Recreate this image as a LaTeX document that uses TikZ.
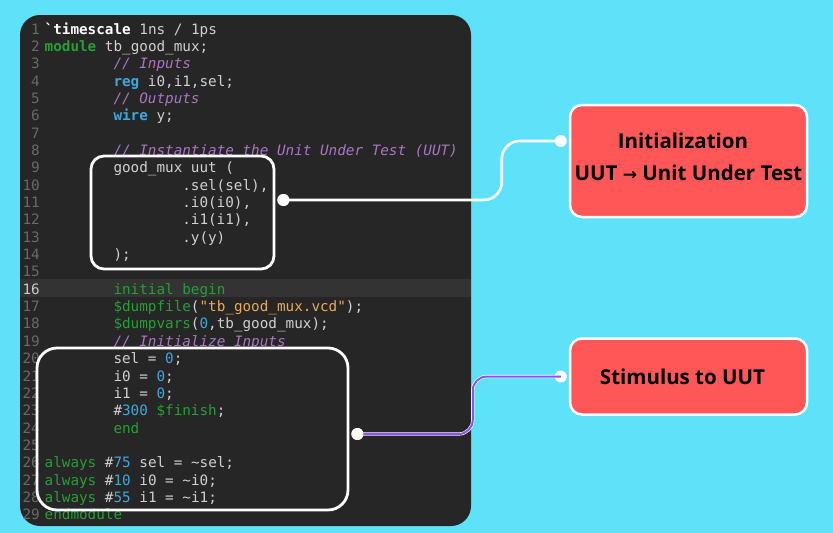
\documentclass[tikz,border=0pt]{standalone}
\usepackage{fontspec}
\newfontfamily\codefont{DejaVu Sans Mono}
\newfontfamily\boxfont{Open Sans}
\newfontfamily\arrowfont{DejaVu Sans}
\usetikzlibrary{positioning}

\definecolor{skyblue}{RGB}{93,226,250}
\definecolor{panel}{RGB}{38,38,38}
\definecolor{curline}{RGB}{51,51,51}
\definecolor{numgray}{RGB}{105,105,105}
\definecolor{codegray}{RGB}{208,208,208}
\definecolor{vgreen}{RGB}{36,160,52}
\definecolor{vblue}{RGB}{62,168,222}
\definecolor{vpurple}{RGB}{168,118,196}
\definecolor{vorange}{RGB}{232,172,84}
\definecolor{notered}{RGB}{255,87,87}
\definecolor{linkpurple}{RGB}{140,82,255}

\newcommand\vkw[1]{\textcolor{vgreen}{#1}}
\newcommand\vty[1]{\textcolor{vblue}{\bfseries #1}}
\newcommand\vcm[1]{\textcolor{vpurple}{\itshape #1}}
\newcommand\vnum[1]{\textcolor{vblue}{#1}}
\newcommand\vstr[1]{\textcolor{vorange}{#1}}

\begin{document}
\begin{tikzpicture}[x=1pt,y=-1pt,
    lnum/.style={anchor=base east,inner sep=0pt,text=numgray,font=\codefont\fontsize{14.3}{17}\selectfont},
    code/.style={anchor=base west,inner sep=0pt,text=codegray,font=\codefont\fontsize{14.3}{17}\selectfont},
    hlbox/.style={draw=white,line width=2.8pt,rounded corners=#1},
    note/.style={draw=white,line width=2.5pt,fill=notered,rounded corners=12pt,minimum width=237pt,
      align=center,font=\boxfont\bfseries\fontsize{20.5}{32}\selectfont},
    dot/.style={circle,fill=white,inner sep=0pt,minimum size=12pt},
    link/.style={white,line width=2.6pt,rounded corners=18pt}]
  \useasboundingbox[fill=skyblue] (0,0) rectangle (833,533);
  \fill[panel,rounded corners=20pt] (20,15) rectangle (471,526);
  \fill[curline] (20,279) rectangle (471,297);

  % line numbers
  \foreach \n in {1,...,15,17,18,...,29}
    \node[lnum] (n\n) at (40,{34+(\n-1)*17.35}) {\n};
  \node[lnum,text=white!65!numgray] (n16) at (40,{34+15*17.35}) {16};

  % source lines: number/indent/text
  \foreach \n/\lv/\txt in {
      1/0/{\textcolor{white}{\bfseries `timescale} 1ns / 1ps},
      2/0/{\vkw{\bfseries module} tb\_good\_mux;},
      3/8/{\vcm{// Inputs}},
      4/8/{\vty{reg} i0,i1,sel;},
      5/8/{\vcm{// Outputs}},
      6/8/{\vty{wire} y;},
      8/8/{\vcm{// Instantiate the Unit Under Test (UUT)}},
      9/8/{good\_mux uut (},
      10/16/{.sel(sel),},
      11/16/{.i0(i0),},
      12/16/{.i1(i1),},
      13/16/{.y(y)},
      14/8/{);},
      16/8/{\vkw{initial begin}},
      17/8/{\vkw{\$dumpfile}(\vstr{"tb\_good\_mux.vcd"});},
      18/8/{\vkw{\$dumpvars}(\vnum{0},tb\_good\_mux);},
      19/8/{\vcm{// Initialize Inputs}},
      20/8/{sel = \vnum{0};},
      21/8/{i0 = \vnum{0};},
      22/8/{i1 = \vnum{0};},
      23/8/{\#\vnum{300} \vkw{\$finish};},
      24/8/{\vkw{end}},
      26/0/{\vkw{always} \#\vnum{75} sel = \textasciitilde sel;},
      27/0/{\vkw{always} \#\vnum{10} i0 = \textasciitilde i0;},
      28/0/{\vkw{always} \#\vnum{55} i1 = \textasciitilde i1;},
      29/0/{\vkw{endmodule}}}
    \node[code] (c\n) at ({44.5+\lv*8.6},{34+(\n-1)*17.35}) {\txt};

  \node[hlbox=13pt,minimum width=183pt,minimum height=113pt] (uutbox) at (182.5,212.5) {};
  \node[hlbox=20pt,minimum width=311pt,minimum height=162pt] (stimbox) at (192.5,429) {};

  \node[note,minimum height=112pt,text depth=8pt] (init) at (688.5,161)
    {Initialization\hspace*{11pt}\\UUT {\arrowfont\fontsize{17}{17}\selectfont→} Unit Under Test};
  \node[note,minimum height=76pt,below=119pt of init] (stim) {Stimulus to UUT\hspace*{12pt}};

  \node[dot] (dA) at ([xshift=8pt,yshift=12.5pt]uutbox.east) {};
  \node[dot] (d1) at ([xshift=-8pt,yshift=20pt]init.west) {};
  \node[dot] (dB) at ([xshift=8pt,yshift=-5pt]stimbox.east) {};
  \node[dot] (d2) at ([xshift=-8pt]stim.west) {};

  \draw[link] (dA.center) -| ([xshift=-59pt]d1.center) -- (d1.center);
  \draw[draw=white,line width=0.6pt,double=linkpurple,double distance=2pt,rounded corners=14pt]
    (dB.center) -| ([xshift=-88pt]d2.center) -- (d2.center);
  \node[dot] at (dA) {};
  \node[dot] at (dB) {};
\end{tikzpicture}
\end{document}
